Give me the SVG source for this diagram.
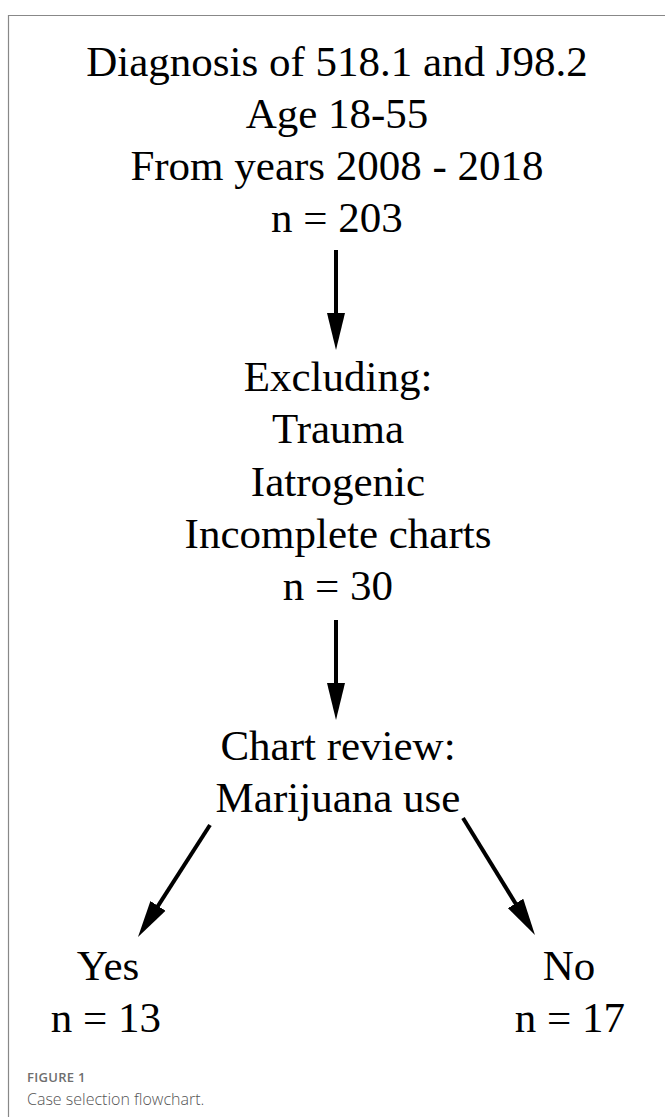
<svg xmlns="http://www.w3.org/2000/svg" width="665" height="1117" viewBox="0 0 665 1117">
<style>
.t{font-family:"Liberation Serif","Times New Roman",serif;font-size:43px;fill:#000;text-anchor:middle}
.c{stroke:#000;stroke-width:4;fill:none}
.cap1{font-family:"Open Sans","Liberation Sans",sans-serif;font-size:13px;font-weight:600;fill:#6e6e6e;letter-spacing:0.3px}
.cap2{font-family:"Open Sans","Liberation Sans",sans-serif;font-size:16px;font-weight:300;fill:#555}
</style>
<defs>
<marker id="ah" markerUnits="userSpaceOnUse" markerWidth="40" markerHeight="20" viewBox="0 -10 40 20" refX="5" refY="0" orient="auto">
<path d="M0,-9 L37,0 L0,9 Z" fill="#000"/>
</marker>
</defs>
<rect width="665" height="1117" fill="#fff"/>
<path d="M8.5,1117 V15.5 H665" fill="none" stroke="#888" stroke-width="1.2"/>
<g id="node-diagnosis">
<text class="t" x="337" y="76">Diagnosis of 518.1 and J98.2</text>
<text class="t" x="337" y="128">Age 18-55</text>
<text class="t" x="337" y="180">From years 2008 - 2018</text>
<text class="t" x="337" y="232">n = 203</text>
</g>
<g id="node-excluding">
<text class="t" x="338" y="391">Excluding:</text>
<text class="t" x="338" y="443">Trauma</text>
<text class="t" x="338" y="496">Iatrogenic</text>
<text class="t" x="338" y="548">Incomplete charts</text>
<text class="t" x="338" y="600">n = 30</text>
</g>
<g id="node-review">
<text class="t" x="338" y="760">Chart review:</text>
<text class="t" x="338" y="812">Marijuana use</text>
</g>
<g id="node-yes">
<text class="t" x="108" y="980">Yes</text>
<text class="t" x="106" y="1032">n = 13</text>
</g>
<g id="node-no">
<text class="t" x="569" y="980">No</text>
<text class="t" x="570" y="1032">n = 17</text>
</g>
<g id="connectors">
<line class="c" x1="336" y1="250" x2="336" y2="318" marker-end="url(#ah)"/>
<line class="c" x1="336" y1="620" x2="336" y2="688" marker-end="url(#ah)"/>
<line class="c" x1="210" y1="825" x2="155.3" y2="910.1" marker-end="url(#ah)"/>
<line class="c" x1="463" y1="818" x2="518.2" y2="907.7" marker-end="url(#ah)"/>
</g>
<g id="caption">
<text class="cap1" x="27" y="1082">FIGURE 1</text>
<text class="cap2" x="27" y="1105">Case selection flowchart.</text>
</g>
</svg>
